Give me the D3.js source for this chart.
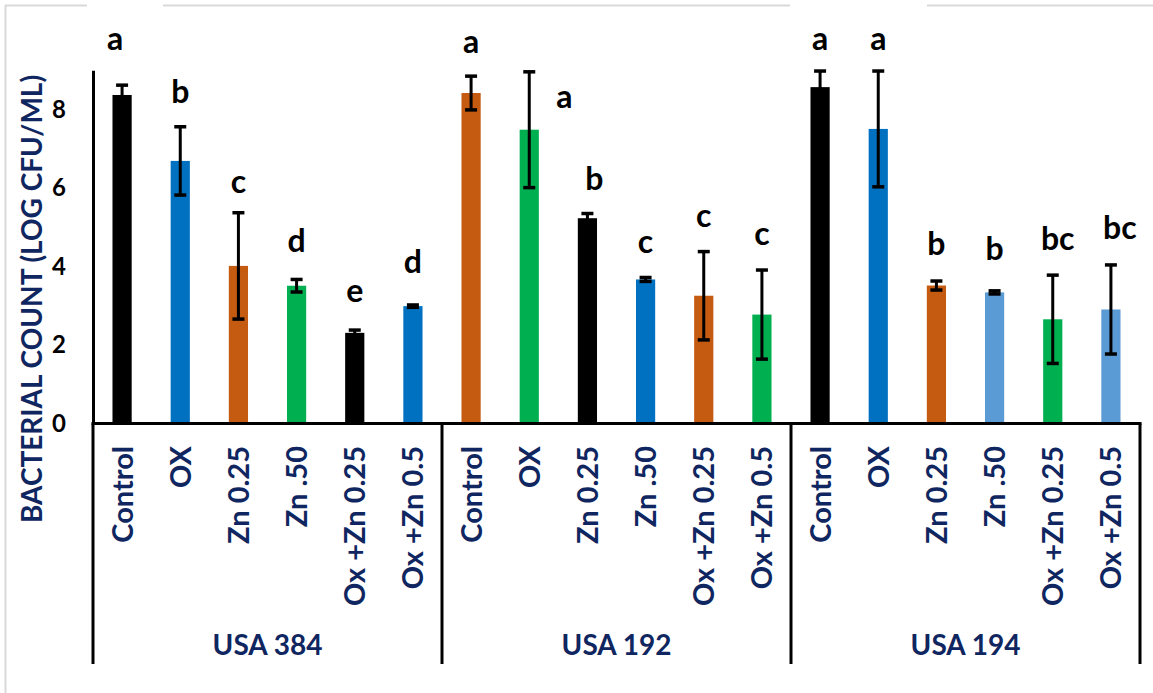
<!DOCTYPE html>
<html>
<head>
<meta charset="utf-8">
<script src="https://cdn.jsdelivr.net/npm/d3@7"></script>
<style>
  html, body { margin: 0; padding: 0; background: #ffffff; }
  svg { display: block; font-family: Lato, "Open Sans", sans-serif; font-weight: 700; }
</style>
</head>
<body>
<svg id="chart" width="1153" height="693"></svg>
<script>
// Strain groups and treatments
const groups = ["USA 384", "USA 192", "USA 194"];
const treatments = ["Control", "OX", "Zn 0.25", "Zn .50", "Ox +Zn 0.25", "Ox +Zn 0.5"];

// Mean bacterial count (log CFU/mL) per treatment
const usa384Mean = [8.37, 6.69, 4.015, 3.51, 2.31, 2.99];
const usa192Mean = [8.42, 7.485, 5.23, 3.67, 3.255, 2.775];
const usa194Mean = [8.57, 7.505, 3.515, 3.34, 2.655, 2.905];

// Error (± SD)
const usa384Err = [0.25, 0.87, 1.355, 0.16, 0.07, 0.03];
const usa192Err = [0.43, 1.475, 0.12, 0.05, 1.125, 1.135];
const usa194Err = [0.41, 1.475, 0.115, 0.04, 1.125, 1.135];

// Significance letters and the level (log CFU/mL) each one sits at
const usa384Letters = ["a", "b", "c", "d", "e", "d"];
const usa192Letters = ["a", "a", "b", "c", "c", "c"];
const usa194Letters = ["a", "a", "b", "b", "bc", "bc"];
const usa384LetterLevel = [9.52, 8.16, 5.87, 4.38, 3.10, 3.83];
const usa192LetterLevel = [9.44, 8.03, 5.95, 4.34, 5.01, 4.55];
const usa194LetterLevel = [9.52, 9.52, 4.29, 4.17, 4.42, 4.71];

// Y axis
const yTicks = [0, 2, 4, 6, 8];
const yMax = 9;

// Bar fills
const usa384Colors = ["#000000", "#0070C0", "#C55A11", "#00B050", "#000000", "#0070C0"];
const usa192Colors = ["#C55A11", "#00B050", "#000000", "#0070C0", "#C55A11", "#00B050"];
const usa194Colors = ["#000000", "#0070C0", "#C55A11", "#5B9BD5", "#00B050", "#5B9BD5"];

const means = [usa384Mean, usa192Mean, usa194Mean];
const errs = [usa384Err, usa192Err, usa194Err];
const letters = [usa384Letters, usa192Letters, usa194Letters];
const letterLevels = [usa384LetterLevel, usa192LetterLevel, usa194LetterLevel];
const colors = [usa384Colors, usa192Colors, usa194Colors];

const rows = [];
groups.forEach((g, gi) => {
  treatments.forEach((t, ti) => {
    rows.push({
      key: g + "|" + t, group: g, treatment: t,
      mean: means[gi][ti], err: errs[gi][ti],
      letter: letters[gi][ti], letterLevel: letterLevels[gi][ti],
      color: colors[gi][ti]
    });
  });
});

const navy = "#0F2660";
const svg = d3.select("#chart");

const plot = { left: 93, right: 1140, top: 70.25, bottom: 423.5 };
const groupBottom = 664;

const x = d3.scaleBand()
  .domain(rows.map(d => d.key))
  .range([plot.left, plot.right])
  .paddingInner(0.67)
  .paddingOuter(0.335);

const y = d3.scaleLinear().domain([0, yMax]).range([plot.bottom, plot.top]);

// Light frame on the top and left edges
const frame = svg.append("g").attr("stroke", "#D9D9D9").attr("stroke-width", 2);
[[5, 87], [163, 790], [927, 1153]].forEach(([a, b]) => {
  frame.append("line").attr("x1", a).attr("x2", b).attr("y1", 5.5).attr("y2", 5.5);
});
frame.append("line").attr("x1", 5.5).attr("x2", 5.5).attr("y1", 5).attr("y2", 693);

// Bars
svg.append("g").selectAll("rect")
  .data(rows)
  .join("rect")
  .attr("x", d => x(d.key))
  .attr("width", x.bandwidth())
  .attr("y", d => y(d.mean))
  .attr("height", d => y(0) - y(d.mean))
  .attr("fill", d => d.color);

// Error bars
const capHalf = 6;
const eb = svg.append("g").attr("stroke", "#000").attr("stroke-width", 3);
rows.forEach(d => {
  const cx = x(d.key) + x.bandwidth() / 2;
  const hi = y(d.mean + d.err), lo = y(d.mean - d.err);
  eb.append("line").attr("x1", cx).attr("x2", cx).attr("y1", hi).attr("y2", lo);
  eb.append("line").attr("x1", cx - capHalf).attr("x2", cx + capHalf).attr("y1", hi).attr("y2", hi).attr("stroke-width", 3.5);
  eb.append("line").attr("x1", cx - capHalf).attr("x2", cx + capHalf).attr("y1", lo).attr("y2", lo).attr("stroke-width", 3.5);
});

// Significance letters
const letterNudge = { "USA 192|OX": 35, "USA 192|Zn 0.25": 7, "USA 194|Ox +Zn 0.25": 5, "USA 194|Ox +Zn 0.5": 9, "USA 384|Control": -7 };
svg.append("g").selectAll("text")
  .data(rows)
  .join("text")
  .attr("x", d => x(d.key) + x.bandwidth() / 2 + (letterNudge[d.key] || 0))
  .attr("y", d => y(d.letterLevel))
  .attr("text-anchor", "middle")
  .attr("font-size", 32)
  .attr("fill", "#000")
  .text(d => d.letter);

// Y axis
const yAxis = svg.append("g")
  .attr("transform", `translate(${plot.left},0)`)
  .call(d3.axisLeft(y).tickValues(yTicks).tickSize(0).tickSizeOuter(0).tickPadding(27).tickFormat(d3.format("d")));
yAxis.select(".domain").attr("stroke", "#000").attr("stroke-width", 3);
yAxis.selectAll("text")
  .attr("font-family", "Lato, sans-serif")
  .attr("font-weight", 700)
  .attr("font-size", 24)
  .attr("fill", "#000");

// Baseline across all groups
svg.append("line")
  .attr("x1", plot.left - 1.5).attr("x2", plot.right + 1.5)
  .attr("y1", plot.bottom).attr("y2", plot.bottom)
  .attr("stroke", "#000").attr("stroke-width", 3);

// Group separators below the baseline
const groupWidth = (plot.right - plot.left) / groups.length;
d3.range(groups.length + 1).forEach(i => {
  const gx = plot.left + i * groupWidth;
  svg.append("line")
    .attr("x1", gx).attr("x2", gx)
    .attr("y1", plot.bottom).attr("y2", groupBottom)
    .attr("stroke", "#000").attr("stroke-width", 3);
});

// Treatment labels (rotated)
svg.append("g").selectAll("text")
  .data(rows)
  .join("text")
  .attr("transform", d => `translate(${x(d.key) + x.bandwidth() / 2},446) rotate(-90)`)
  .attr("text-anchor", "end")
  .attr("dy", "0.36em")
  .attr("font-size", 29)
  .attr("fill", navy)
  .text(d => d.treatment);

// Group labels
svg.append("g").selectAll("text")
  .data(groups)
  .join("text")
  .attr("x", (g, i) => plot.left + (i + 0.5) * groupWidth)
  .attr("y", 655)
  .attr("text-anchor", "middle")
  .attr("font-size", 28)
  .attr("fill", navy)
  .text(g => g);

// Y axis title
svg.append("text")
  .attr("transform", "translate(32,299) rotate(-90)")
  .attr("text-anchor", "middle")
  .attr("dy", "0.36em")
  .attr("font-size", 28)
  .attr("fill", navy)
  .text("BACTERIAL COUNT (LOG CFU/ML)");
</script>
</body>
</html>
